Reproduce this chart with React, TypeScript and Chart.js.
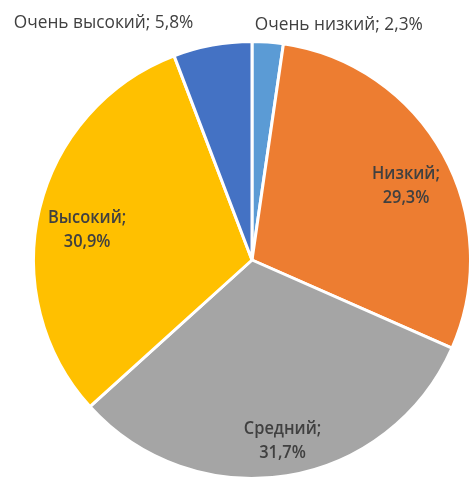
import React, { useEffect, useRef } from "react";
import { Chart, registerables } from "chart.js";

Chart.register(...registerables);

const categories = ["Очень низкий", "Низкий", "Средний", "Высокий", "Очень высокий"];
const values = [2.3, 29.3, 31.7, 30.9, 5.8];
const valueLabels = ["2,3%", "29,3%", "31,7%", "30,9%", "5,8%"];
const colors = ["#5B9BD5", "#ED7D31", "#A5A5A5", "#FFC000", "#4472C4"];

const FONT = "'Open Sans', 'Noto Sans', sans-serif";
const SQUEEZE = 0.91;

function drawText(ctx: CanvasRenderingContext2D, text: string, x: number, y: number) {
  const w = ctx.measureText(text).width;
  ctx.fillText(text, x, y, w * SQUEEZE);
}

const labelPlugin = {
  id: "sliceLabels",
  afterDatasetsDraw(chart: any) {
    const ctx = chart.ctx;
    const meta = chart.getDatasetMeta(0);
    ctx.save();
    meta.data.forEach((arc: any, i: number) => {
      const { x, y, startAngle, endAngle, outerRadius } = arc.getProps(
        ["x", "y", "startAngle", "endAngle", "outerRadius"],
        true
      );
      const mid = (startAngle + endAngle) / 2;
      const pct = values[i];
      if (pct < 10) {
        const ex = x + Math.cos(mid) * outerRadius;
        ctx.font = `19px ${FONT}`;
        ctx.fillStyle = "#404040";
        ctx.textBaseline = "middle";
        const text = `${categories[i]}; ${valueLabels[i]}`;
        const ty = y - outerRadius - 19;
        if (Math.cos(mid) < 0) {
          ctx.textAlign = "right";
          drawText(ctx, text, ex - 19, ty);
        } else {
          ctx.textAlign = "left";
          drawText(ctx, text, ex - 13, ty + 2);
        }
      } else {
        const r = outerRadius * 0.79;
        const cx = x + Math.cos(mid) * r + 3;
        const cy = y + Math.sin(mid) * r + 10;
        ctx.font = `600 18px ${FONT}`;
        ctx.fillStyle = "#404040";
        ctx.textAlign = "center";
        ctx.textBaseline = "middle";
        drawText(ctx, `${categories[i]};`, cx, cy - 12);
        drawText(ctx, valueLabels[i], cx, cy + 12);
      }
    });
    ctx.restore();
  },
};

export default function App() {
  const ref = useRef<HTMLCanvasElement | null>(null);
  useEffect(() => {
    if (!ref.current) return;
    const chart = new Chart(ref.current, {
      type: "pie",
      data: {
        labels: categories,
        datasets: [
          {
            data: values,
            backgroundColor: colors,
            borderColor: "#FFFFFF",
            borderWidth: 3,
          },
        ],
      },
      options: {
        responsive: false,
        animation: false,
        layout: { padding: { top: 39, bottom: 0, left: 32, right: 2 } },
        plugins: {
          legend: { display: false },
          tooltip: { enabled: false },
        },
      },
      plugins: [labelPlugin],
    });
    return () => chart.destroy();
  }, []);
  return (
    <div style={{ position: "fixed", left: 0, top: 0, width: 474, height: 481, background: "#fff" }}>
      <canvas ref={ref} width={474} height={481} />
    </div>
  );
}
